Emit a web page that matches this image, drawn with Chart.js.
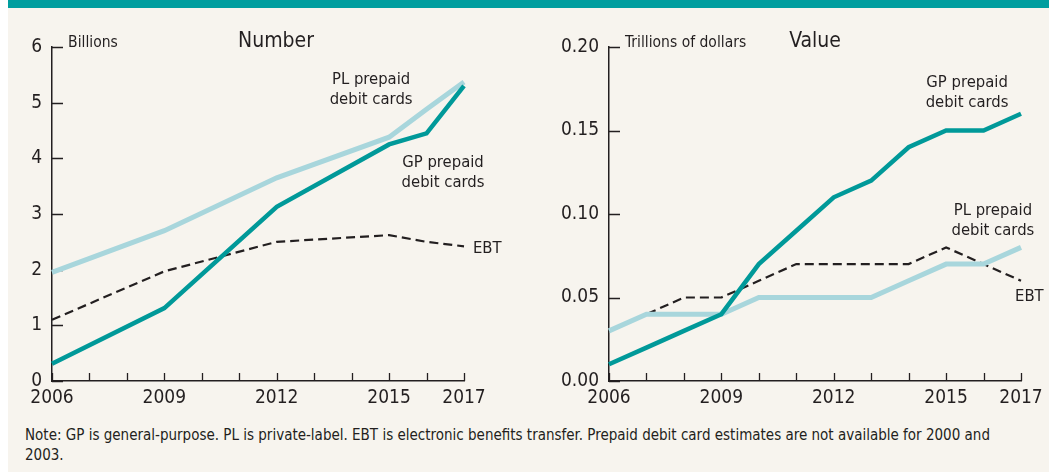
<!DOCTYPE html>
<html>
<head>
<meta charset="utf-8">
<script src="https://cdn.jsdelivr.net/npm/chart.js@4.4.0/dist/chart.umd.min.js"></script>
<style>
  html, body { margin: 0; padding: 0; background: #ffffff; }
  #panel { position: absolute; left: 8px; top: 0; width: 1041px; height: 472px; background: #f7f4ee; overflow: hidden; }
  #band { position: absolute; left: 0; top: 0; width: 100%; height: 8px; background: #009e9f; }
  .box { position: absolute; top: 8px; height: 412px; }
  #leftBox { left: 0; width: 520px; }
  #rightBox { left: 520px; width: 521px; }
  #note { position: absolute; left: 17px; top: 425px; font: 15px "DejaVu Sans Condensed", "Liberation Sans Narrow", sans-serif;
    color: #231f20; line-height: 20px; white-space: nowrap; }
</style>
</head>
<body>
<div id="panel">
  <div id="band"></div>
  <div class="box" id="leftBox"><canvas id="numberChart"></canvas></div>
  <div class="box" id="rightBox"><canvas id="valueChart"></canvas></div>
  <div id="note">Note: GP is general-purpose. PL is private-label. EBT is electronic benefits transfer. Prepaid debit card estimates are not available for 2000 and<br>2003.</div>
</div>
<script>
  "use strict";

  // --- data ---
  const numberYears = [2006, 2009, 2012, 2015, 2016, 2017];
  const numberGP  = [0.31, 1.31, 3.13, 4.25, 4.45, 5.30];
  const numberPL  = [1.95, 2.70, 3.65, 4.38, 4.88, 5.37];
  const numberEBT = [1.10, 1.97, 2.50, 2.62, 2.50, 2.42];

  const valueYears = [2006, 2007, 2008, 2009, 2010, 2011, 2012, 2013, 2014, 2015, 2016, 2017];
  const valueGP  = [0.01, 0.02, 0.03, 0.04, 0.07, 0.09, 0.11, 0.12, 0.14, 0.15, 0.15, 0.16];
  const valuePL  = [0.03, 0.04, 0.04, 0.04, 0.05, 0.05, 0.05, 0.05, 0.06, 0.07, 0.07, 0.08];
  const valueEBT = [0.03, 0.04, 0.05, 0.05, 0.06, 0.07, 0.07, 0.07, 0.07, 0.08, 0.07, 0.06];

  const yearTicks = [2006, 2009, 2012, 2015, 2017];
  const numberTicks = [0, 1, 2, 3, 4, 5, 6];
  const valueTicks = [0, 0.05, 0.10, 0.15, 0.20];

  const FONT = '"DejaVu Sans Condensed", "Liberation Sans Narrow", sans-serif';
  const INK = "#231f20";
  const GP_COLOR = "#009999";
  const PL_COLOR = "#a8d6dc";

  Chart.defaults.font.family = FONT;
  Chart.defaults.color = INK;

  function points(xs, ys) {
    return xs.map((x, i) => ({ x, y: ys[i] }));
  }

  // short tick marks pointing into the plot, like the original
  const inwardTicks = {
    id: "inwardTicks",
    beforeDatasetsDraw(chart) {
      const { ctx, scales: { x, y } } = chart;
      ctx.save();
      ctx.strokeStyle = INK;
      ctx.lineWidth = 1.3;
      ctx.beginPath();
      for (let yr = x.min; yr <= x.max; yr++) {
        const px = Math.round(x.getPixelForValue(yr)) + 0.5;
        ctx.moveTo(px, y.bottom);
        ctx.lineTo(px, y.bottom - 8);
      }
      y.ticks.forEach((t) => {
        const py = Math.round(y.getPixelForValue(t.value)) + 0.5;
        ctx.moveTo(x.left, py);
        ctx.lineTo(x.left + 11, py);
      });
      ctx.stroke();
      ctx.restore();
    },
  };

  // titles, units and series names placed in data coordinates
  const notes = {
    id: "notes",
    afterDraw(chart, args, opts) {
      const { ctx, scales: { x, y } } = chart;
      ctx.save();
      ctx.fillStyle = INK;
      ctx.textBaseline = "alphabetic";
      (opts.items || []).forEach((it) => {
        ctx.font = it.size + "px " + FONT;
        ctx.textAlign = it.align || "left";
        const px = x.getPixelForValue(it.x);
        const py = y.getPixelForValue(it.y);
        it.lines.forEach((ln, i) => ctx.fillText(ln, px, py + i * 20));
      });
      ctx.restore();
    },
  };

  function lineSet(label, data, color, width, dash) {
    return {
      label, data,
      borderColor: color, backgroundColor: color,
      borderWidth: width, borderDash: dash || [],
      pointRadius: 0, tension: 0, clip: false,
      borderCapStyle: "butt", borderJoinStyle: "miter",
    };
  }

  function makeChart(canvas, cfg) {
    return new Chart(canvas, {
      type: "line",
      data: {
        datasets: [
          lineSet("GP prepaid debit cards", cfg.gp, GP_COLOR, 4.5),
          lineSet("PL prepaid debit cards", cfg.pl, PL_COLOR, 5),
          lineSet("EBT", cfg.ebt, INK, 2.2, [9, 5]),
        ],
      },
      options: {
        responsive: true,
        maintainAspectRatio: false,
        animation: false,
        devicePixelRatio: 1,
        layout: { padding: { left: 0, top: 39, right: cfg.padRight, bottom: 9 } },
        plugins: { legend: { display: false }, tooltip: { enabled: false }, notes: { items: cfg.items } },
        scales: {
          x: {
            type: "linear", min: 2006, max: 2017,
            grid: { display: false, drawTicks: false },
            border: { display: true, color: INK, width: 1.5 },
            afterBuildTicks: (s) => { s.ticks = yearTicks.map((v) => ({ value: v })); },
            afterFit: (s) => { s.height = 30; },
            ticks: { autoSkip: false, maxRotation: 0, padding: 6, font: { size: 19 }, color: INK,
              callback: (v) => String(v) },
          },
          y: {
            type: "linear", min: cfg.ticks[0], max: cfg.ticks[cfg.ticks.length - 1],
            grid: { display: false, drawTicks: false },
            border: { display: true, color: INK, width: 1.5 },
            afterBuildTicks: (s) => { s.ticks = cfg.ticks.map((v) => ({ value: v })); },
            afterFit: (s) => { s.width = cfg.axisWidth; },
            ticks: { padding: 10, font: { size: 19 }, color: INK, callback: cfg.fmt },
          },
        },
      },
      plugins: [inwardTicks, notes],
    });
  }

  makeChart(document.getElementById("numberChart"), {
    gp: points(numberYears, numberGP),
    pl: points(numberYears, numberPL),
    ebt: points(numberYears, numberEBT),
    ticks: numberTicks,
    fmt: (v) => String(v),
    axisWidth: 44,
    padRight: 64,
    items: [
      { lines: ["Number"], x: 2011.98, y: 6, size: 21, align: "center" },
      { lines: ["Billions"], x: 2006.43, y: 6, size: 15.5 },
      { lines: ["PL prepaid", "debit cards"], x: 2014.52, y: 5.335, size: 16.5, align: "center" },
      { lines: ["GP prepaid", "debit cards"], x: 2016.44, y: 3.844, size: 16.5, align: "center" },
      { lines: ["EBT"], x: 2017.24, y: 2.30, size: 16.5 },
    ],
  });

  makeChart(document.getElementById("valueChart"), {
    gp: points(valueYears, valueGP),
    pl: points(valueYears, valuePL),
    ebt: points(valueYears, valueEBT),
    ticks: valueTicks,
    fmt: (v) => v.toFixed(2),
    axisWidth: 81,
    padRight: 28,
    items: [
      { lines: ["Value"], x: 2011.5, y: 0.2, size: 21, align: "center" },
      { lines: ["Trillions of dollars"], x: 2006.43, y: 0.2, size: 15.5 },
      { lines: ["GP prepaid", "debit cards"], x: 2015.56, y: 0.176, size: 16.5, align: "center" },
      { lines: ["PL prepaid", "debit cards"], x: 2016.25, y: 0.0994, size: 16.5, align: "center" },
      { lines: ["EBT"], x: 2016.84, y: 0.0479, size: 16.5 },
    ],
  });
</script>
</body>
</html>
